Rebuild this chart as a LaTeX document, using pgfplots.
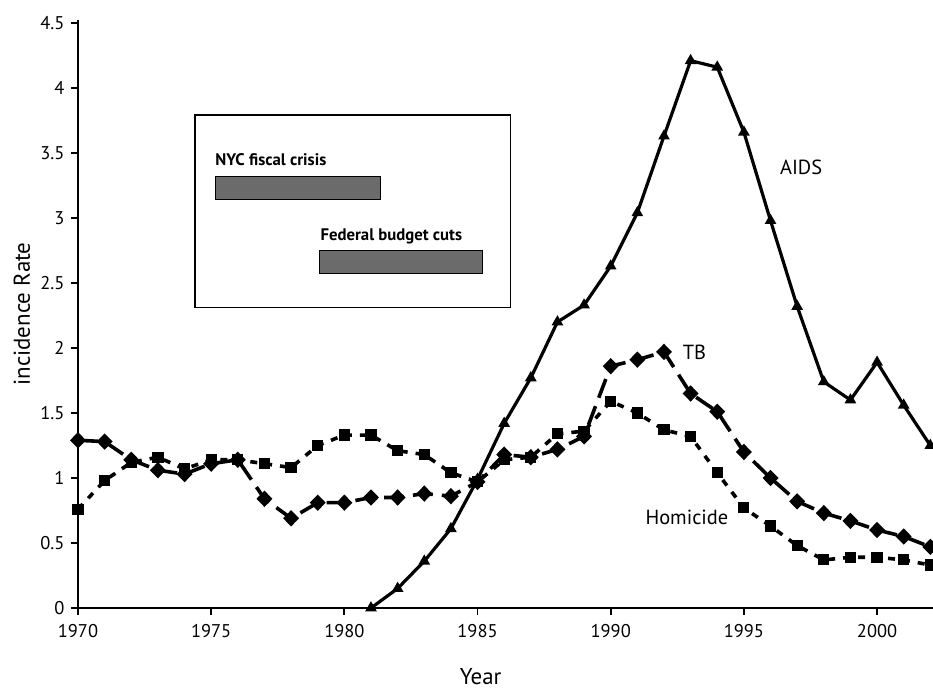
\documentclass[border=0pt]{standalone}
\usepackage{fontspec}
\setmainfont{PT Sans}
\usepackage{pgfplots}
\pgfplotsset{compat=1.18}
\begin{document}
\begin{tikzpicture}
\path[use as bounding box] (-78bp,-83bp) rectangle (855bp,608bp);
\begin{axis}[
  at={(0,0)}, anchor=south west,
  scale only axis,
  width=855bp, height=588bp,
  xmin=1970, xmax=2002.1,
  ymin=0, ymax=4.523,
  axis x line*=bottom, axis y line*=left,
  axis line style={line width=2.8bp},
  xtick={1970,1975,1980,1985,1990,1995,2000},
  xticklabels={1970,1975,1980,1985,1990,1995,2000},
  ytick={0,0.5,1,1.5,2,2.5,3,3.5,4,4.5},
  yticklabels={0,0.5,1,1.5,2,2.5,3,3.5,4,4.5},
  tick align=outside,
  major tick length=7bp,
  tick style={line width=1.8bp, black},
  /pgf/number format/assume math mode=true,
  xticklabel style={font=\fontsize{18.5}{22}\selectfont, yshift=-6bp},
  yticklabel style={font=\fontsize{18.5}{22}\selectfont, xshift=-3bp},
  xlabel={Year},
  ylabel={incidence Rate},
  label style={font=\fontsize{23}{27}\selectfont},
  xlabel style={at={(axis description cs:0.471,0)}, anchor=base, yshift=-76bp},
  ylabel style={at={(axis description cs:0,0.5)}, anchor=base, yshift=48bp},
  clip=false,
]
% inset box
\addplot[draw=black, line width=1.6bp, fill=white] coordinates {(1974.4,2.31) (1986.24,2.31) (1986.24,3.79) (1974.4,3.79)} -- cycle;
\addplot[draw=black, line width=1.2bp, fill=black!58] coordinates {(1975.15,3.14) (1981.35,3.14) (1981.35,3.32) (1975.15,3.32)} -- cycle;
\addplot[draw=black, line width=1.2bp, fill=black!58] coordinates {(1979.07,2.57) (1985.2,2.57) (1985.2,2.75) (1979.07,2.75)} -- cycle;
\node[anchor=base west, inner sep=0pt, font=\fontsize{16.8}{20}\selectfont\bfseries] at (axis cs:1975.15,3.40) {NYC fiscal crisis};
\node[anchor=base west, inner sep=0pt, font=\fontsize{16.8}{20}\selectfont\bfseries] at (axis cs:1979.1,2.83) {Federal budget cuts};

% AIDS
\addplot[black, line width=3.2bp, mark=triangle*, mark size=3.6bp, mark options={solid}] coordinates {
(1981,0) (1982,0.15) (1983,0.36) (1984,0.61) (1985,0.99) (1986,1.42) (1987,1.77) (1988,2.20) (1989,2.33) (1990,2.63) (1991,3.04) (1992,3.63) (1993,4.21) (1994,4.16) (1995,3.66) (1996,2.98) (1997,2.32) (1998,1.74) (1999,1.60) (2000,1.89) (2001,1.56) (2002,1.25)};
% TB
\addplot[black, line width=3.6bp, dash pattern=on 20bp off 9bp, mark=diamond*, mark size=5.6bp, mark options={solid, xscale=1.3}] coordinates {
(1970,1.29) (1971,1.28) (1972,1.14) (1973,1.06) (1974,1.03) (1975,1.11) (1976,1.14) (1977,0.84) (1978,0.69) (1979,0.81) (1980,0.81) (1981,0.85) (1982,0.85) (1983,0.88) (1984,0.86) (1985,0.97) (1986,1.18) (1987,1.16) (1988,1.22) (1989,1.32) (1990,1.86) (1991,1.91) (1992,1.97) (1993,1.65) (1994,1.51) (1995,1.20) (1996,1.00) (1997,0.82) (1998,0.73) (1999,0.67) (2000,0.60) (2001,0.55) (2002,0.47)};
% Homicide
\addplot[black, line width=3.6bp, dash pattern=on 7bp off 8bp, mark=square*, mark size=3.8bp, mark options={solid}] coordinates {
(1970,0.76) (1971,0.98) (1972,1.12) (1973,1.16) (1974,1.07) (1975,1.14) (1976,1.14) (1977,1.11) (1978,1.08) (1979,1.25) (1980,1.33) (1981,1.33) (1982,1.21) (1983,1.18) (1984,1.04) (1985,0.97) (1986,1.14) (1987,1.16) (1988,1.34) (1989,1.36) (1990,1.59) (1991,1.50) (1992,1.37) (1993,1.32) (1994,1.04) (1995,0.77) (1996,0.63) (1997,0.48) (1998,0.37) (1999,0.39) (2000,0.39) (2001,0.37) (2002,0.33)};

\node[anchor=west, inner sep=0pt, font=\fontsize{20.5}{24}\selectfont] at (axis cs:1996.35,3.39) {AIDS};
\node[anchor=west, inner sep=0pt, font=\fontsize{20.5}{24}\selectfont] at (axis cs:1992.7,1.97) {TB};
\node[anchor=west, inner sep=0pt, font=\fontsize{20.5}{24}\selectfont] at (axis cs:1991.3,0.70) {Homicide};
\end{axis}
\end{tikzpicture}
\end{document}
